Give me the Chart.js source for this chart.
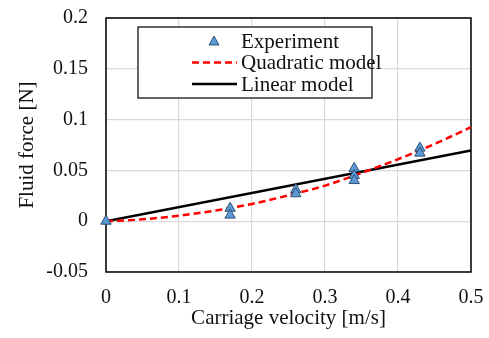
<!DOCTYPE html>
<html>
<head>
<meta charset="utf-8">
<script src="https://cdn.jsdelivr.net/npm/chart.js@4"></script>
<style>
  html, body { margin: 0; padding: 0; background: #fff; }
  #wrap { width: 489px; height: 338px; }
</style>
</head>
<body>
<div id="wrap"><canvas id="forceChart" width="489" height="338"></canvas></div>
<script>
// measured points (carriage velocity m/s, fluid force N)
const expX = [0, 0.17, 0.17, 0.26, 0.26, 0.34, 0.34, 0.34, 0.43, 0.43];
const expY = [0, 0.0127, 0.006, 0.031, 0.027, 0.052, 0.045, 0.040, 0.072, 0.067];

// model curves
const quadX = [0, 0.05, 0.1, 0.15, 0.2, 0.25, 0.3, 0.35, 0.4, 0.45, 0.5];
const quadY = [0, 0.0018, 0.0055, 0.0105, 0.017, 0.0255, 0.035, 0.0475, 0.061, 0.076, 0.0925];
const linX = [0, 0.5];
const linY = [0, 0.0695];

const xTicks = [0, 0.1, 0.2, 0.3, 0.4, 0.5];
const yTicks = [-0.05, 0, 0.05, 0.1, 0.15, 0.2];

const toPts = (xs, ys) => xs.map((x, i) => ({ x: x, y: ys[i] }));
const font = "'Liberation Serif', 'Times New Roman', serif";

// black frame around the plot area, drawn under the markers
const frame = {
  id: "frame",
  beforeDatasetsDraw(chart) {
    const a = chart.chartArea, c = chart.ctx;
    c.save();
    c.strokeStyle = "#000";
    c.lineWidth = 1.5;
    c.strokeRect(a.left, a.top, a.right - a.left, a.bottom - a.top);
    c.restore();
  },
};

// boxed legend sitting inside the plot
const boxLegend = {
  id: "boxLegend",
  afterDraw(chart) {
    const c = chart.ctx;
    const bx = 138, by = 27, bw = 234, bh = 71;
    c.save();
    c.fillStyle = "#fff";
    c.fillRect(bx, by, bw, bh);
    c.strokeStyle = "#000";
    c.lineWidth = 1.2;
    c.strokeRect(bx, by, bw, bh);
    c.font = "21px " + font;
    c.textBaseline = "middle";
    chart.data.datasets.forEach((ds, i) => {
      const y = 41 + i * 21.5;
      if (ds.showLine === false) {
        c.beginPath();
        c.moveTo(214, y - 5);
        c.lineTo(219, y + 4);
        c.lineTo(209, y + 4);
        c.closePath();
        c.fillStyle = ds.backgroundColor;
        c.fill();
        c.strokeStyle = ds.borderColor;
        c.lineWidth = 1;
        c.stroke();
      } else {
        c.beginPath();
        c.setLineDash(ds.borderDash || []);
        c.moveTo(192, y);
        c.lineTo(237, y);
        c.strokeStyle = ds.borderColor;
        c.lineWidth = ds.borderWidth;
        c.stroke();
        c.setLineDash([]);
      }
      c.fillStyle = "#111";
      c.fillText(ds.label, 241, y + 1);
    });
    c.restore();
  },
};

new Chart(document.getElementById("forceChart"), {
  type: "scatter",
  data: {
    datasets: [
      {
        label: "Experiment",
        data: toPts(expX, expY),
        showLine: false,
        pointStyle: "triangle",
        pointRadius: 6,
        backgroundColor: "#5b9bd5",
        borderColor: "#2f4f75",
        borderWidth: 1,
        clip: false,
        order: 0,
      },
      {
        label: "Quadratic model",
        data: toPts(quadX, quadY),
        showLine: true,
        pointRadius: 0,
        borderColor: "#ff0000",
        borderWidth: 2.5,
        borderDash: [7, 4],
        cubicInterpolationMode: "monotone",
        order: 1,
      },
      {
        label: "Linear model",
        data: toPts(linX, linY),
        showLine: true,
        pointRadius: 0,
        borderColor: "#000",
        borderWidth: 2.5,
        order: 2,
      },
    ],
  },
  options: {
    responsive: false,
    animation: false,
    layout: { padding: { top: 18, right: 18, left: 0, bottom: 0 } },
    plugins: {
      legend: { display: false },
      tooltip: { enabled: false },
    },
    scales: {
      x: {
        type: "linear",
        min: 0,
        max: 0.5,
        afterBuildTicks: (s) => { s.ticks = xTicks.map((v) => ({ value: v })); },
        afterFit: (s) => { s.height = 66; s.paddingLeft = 0; s.paddingRight = 0; },
        ticks: {
          color: "#111",
          font: { family: font, size: 20 },
          padding: 14,
          maxRotation: 0,
          callback: (v) => String(v),
        },
        grid: { color: "#d9d9d9", lineWidth: 1.2, drawTicks: false },
        border: { display: false },
        title: {
          display: true,
          text: "Carriage velocity [m/s]",
          color: "#111",
          font: { family: font, size: 21 },
          padding: { top: 4, bottom: 7 },
        },
      },
      y: {
        type: "linear",
        min: -0.05,
        max: 0.2,
        afterBuildTicks: (s) => { s.ticks = yTicks.map((v) => ({ value: v })); },
        afterFit: (s) => { s.width = 106; s.paddingTop = 0; s.paddingBottom = 0; },
        ticks: {
          color: "#111",
          font: { family: font, size: 20 },
          padding: 18,
          callback: (v) => String(v),
        },
        grid: { color: "#d9d9d9", lineWidth: 1.2, drawTicks: false },
        border: { display: false },
        title: {
          display: true,
          text: "Fluid force [N]",
          color: "#111",
          font: { family: font, size: 21 },
          padding: { top: 15, bottom: 0 },
        },
      },
    },
  },
  plugins: [frame, boxLegend],
});
</script>
</body>
</html>
